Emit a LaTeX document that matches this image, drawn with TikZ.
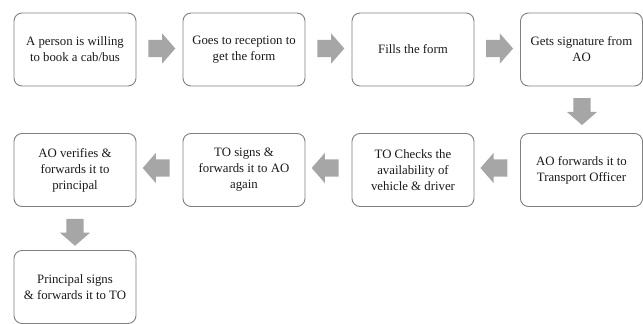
\documentclass[tikz,border=0pt]{standalone}
\usepackage{fontspec}
\setmainfont{Liberation Serif}
\usetikzlibrary{shapes.arrows,calc}
\definecolor{boxline}{RGB}{128,128,128}
\definecolor{arrowfill}{RGB}{166,166,166}
\begin{document}
\begin{tikzpicture}[x=1pt,y=-1pt,
  stepbox/.style={draw=boxline, line width=0.9pt, rounded corners=8pt, minimum width=122pt, minimum height=73pt, align=center, inner sep=2pt, font=\fontsize{12.8}{16}\selectfont, text=black!90},
  blockarrow/.style={single arrow, fill=arrowfill, draw=none, inner sep=8.5pt, minimum height=27pt, single arrow head extend=6.5pt, single arrow tip angle=98},
]
\useasboundingbox (0,0) rectangle (643,324);
\clip (0,0) rectangle (643,324);
\node[stepbox] (b1) at (75,49.5) {A person is willing\\to book a cab/bus};
\node[stepbox] (b2) at (244,49.5) {Goes to reception to\\get the form};
\node[stepbox] (b3) at (413,49.5) {Fills the form};
\node[stepbox] (b4) at (581.5,49.5) {Gets signature from\\AO};
\node[stepbox] (b5) at (581.5,170) {AO forwards it to\\Transport Officer};
\node[stepbox] (b6) at (413,170) {TO Checks the\\availability of\\vehicle \& driver};
\node[stepbox] (b7) at (244,170) {TO signs \&\\forwards it to AO\\again};
\node[stepbox] (b8) at (75,170) {AO verifies \&\\forwards it to\\principal};
\node[stepbox] (b9) at (75,287) {Principal signs\\\& forwards it to TO};
\node[blockarrow] (a1) at ($(b1.east)!0.5!(b2.west)+(-1.5,-1)$) {};
\node[blockarrow] (a2) at ($(b2.east)!0.5!(b3.west)+(-1.5,-1)$) {};
\node[blockarrow] (a3) at ($(b3.east)!0.5!(b4.west)+(-1.5,-1)$) {};
\node[blockarrow, shape border rotate=270] (a4) at ($(b4.south)!0.5!(b5.north)+(0.5,-2)$) {};
\node[blockarrow, shape border rotate=180] (a5) at ($(b5.west)!0.5!(b6.east)+(0.5,-2)$) {};
\node[blockarrow, shape border rotate=180] (a6) at ($(b6.west)!0.5!(b7.east)+(0.5,-2)$) {};
\node[blockarrow, shape border rotate=180] (a7) at ($(b7.west)!0.5!(b8.east)+(0.5,-2)$) {};
\node[blockarrow, shape border rotate=270] (a8) at ($(b8.south)!0.5!(b9.north)+(0,0)$) {};
\end{tikzpicture}
\end{document}
